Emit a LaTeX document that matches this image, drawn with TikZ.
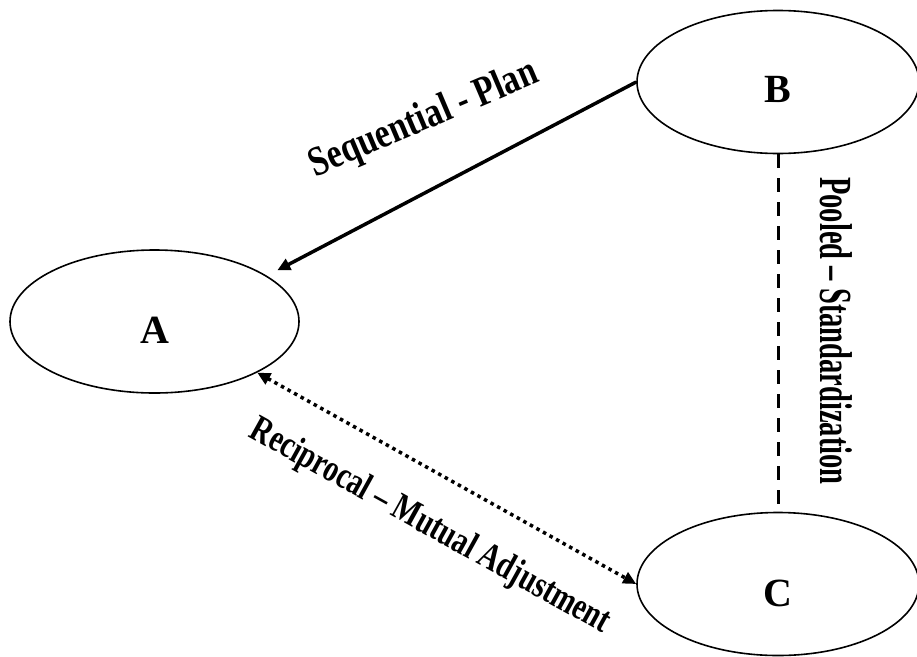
\documentclass[tikz,border=0pt]{standalone}
\usepackage{fontspec}
\setmainfont{Liberation Serif}
\usetikzlibrary{shapes.geometric,arrows.meta}

\tikzset{
  unit/.style={ellipse,draw,line width=1.6pt,minimum width=289pt,minimum height=143pt,inner sep=0pt},
  unitlabel/.style={font=\fontsize{40}{44}\selectfont\bfseries},
  linklabel/.style={font=\bfseries,inner sep=0pt},
  linktip/.tip={Triangle[length=13pt,width=12pt]}
}

\begin{document}
\begin{tikzpicture}[x=1pt,y=-1pt]
                    \useasboundingbox (0,0) rectangle (917,656);
                    \node[unit,label={[unitlabel,yshift=-9pt]center:A}] (A) at (154.5,321.5) {};
                    \node[unit,minimum width=282pt,label={[unitlabel,yshift=-7pt]center:B}] (B) at (778,82) {};
                    \node[unit,minimum width=282pt,label={[unitlabel,yshift=-9pt]center:C}] (C) at (778,584) {};
                    \draw[line width=3.5pt,-{linktip}] (B.west) -- ([xshift=20pt]A.north east);
                    \draw[line width=3.5pt,dash pattern=on 3.5pt off 4pt,{linktip}-{linktip}] (A.south east) -- (C.west);
                    \draw[line width=3pt,dash pattern=on 14pt off 10pt] (B.south) -- (C.north);
                    \node[linklabel,font=\fontsize{42}{46}\selectfont\bfseries,rotate=23,xscale=0.8] (seq) at (424,120) {Sequential - Plan};
                    \node[linklabel,font=\fontsize{38}{42}\selectfont\bfseries,rotate=-29,xscale=0.76] (rec) at (430,527) {Reciprocal -- Mutual Adjustment};
                    \node[linklabel,font=\fontsize{46}{50}\selectfont\bfseries,rotate=-90,xscale=0.62] (poo) at (836,331) {Pooled -- Standardization};
\end{tikzpicture}
\end{document}
